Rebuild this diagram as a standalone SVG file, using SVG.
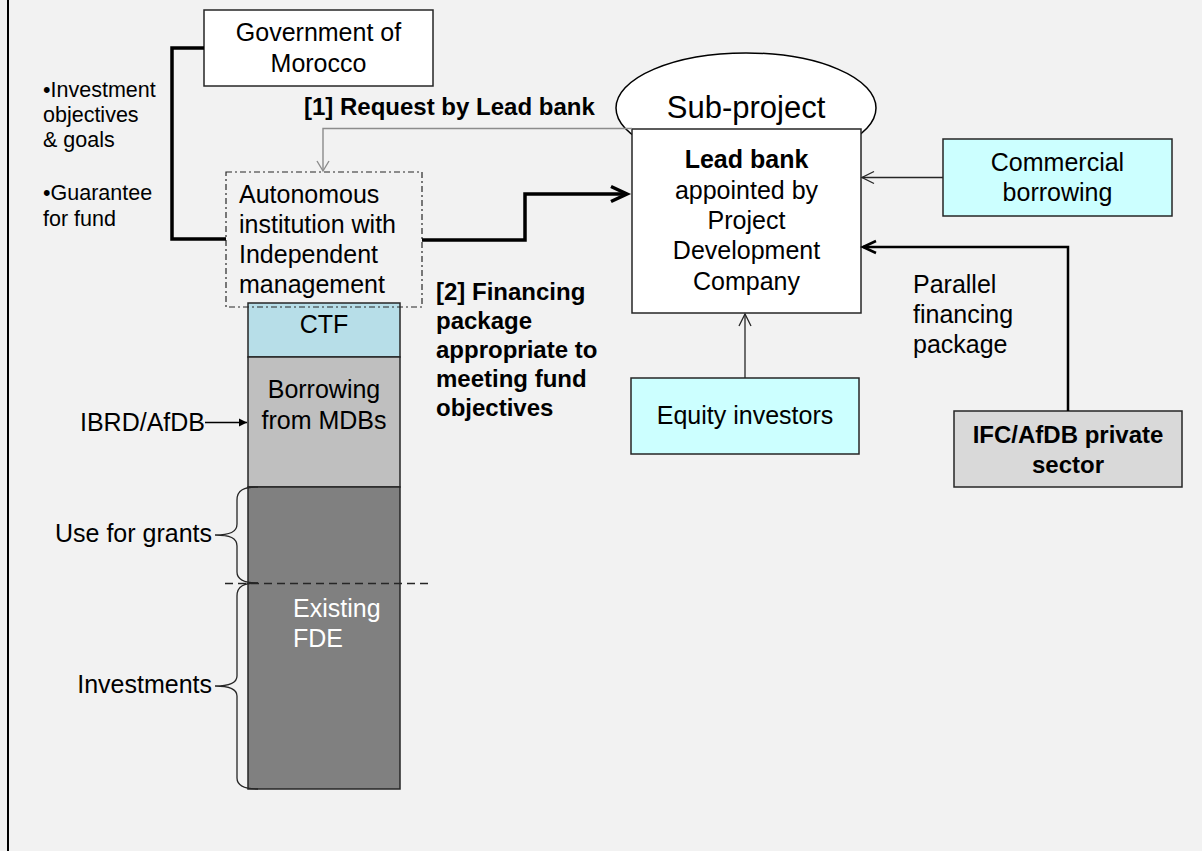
<svg xmlns="http://www.w3.org/2000/svg" width="1202" height="851" viewBox="0 0 1202 851">
<style>
.t{font-family:"Liberation Sans",Arial,sans-serif;font-size:25px;fill:#000}
.b{font-family:"Liberation Sans",Arial,sans-serif;font-size:24px;font-weight:bold;fill:#000}
.s{font-family:"Liberation Sans",Arial,sans-serif;font-size:21.5px;fill:#000}
.box{stroke:#262626;stroke-width:1.5}
.c{fill:none;stroke:#262626;stroke-width:1.3}
</style>
<defs>
<marker id="ahThick" viewBox="-20 -10 24 20" refX="0" refY="0" markerWidth="24" markerHeight="20" markerUnits="userSpaceOnUse" orient="auto" overflow="visible"><path d="M-16,-7.5 L0,0 L-16,7.5" fill="none" stroke="#000" stroke-width="3.5"/></marker>
<marker id="ahPar" viewBox="-16 -8 18 16" refX="0" refY="0" markerWidth="18" markerHeight="16" markerUnits="userSpaceOnUse" orient="auto" overflow="visible"><path d="M-13,-6 L0,0 L-13,6" fill="none" stroke="#000" stroke-width="2.5"/></marker>
<marker id="ahThin" viewBox="-16 -8 18 16" refX="0" refY="0" markerWidth="18" markerHeight="16" markerUnits="userSpaceOnUse" orient="auto" overflow="visible"><path d="M-12,-6 L0,0 L-12,6" fill="none" stroke="#262626" stroke-width="1.3"/></marker>
<marker id="ahGray" viewBox="-16 -8 18 16" refX="0" refY="0" markerWidth="18" markerHeight="16" markerUnits="userSpaceOnUse" orient="auto" overflow="visible"><path d="M-10,-6 L0,0 L-10,6" fill="none" stroke="#8c8c8c" stroke-width="1.4"/></marker>
<marker id="ahFill" viewBox="-10 -5 11 10" refX="0" refY="0" markerWidth="11" markerHeight="10" markerUnits="userSpaceOnUse" orient="auto" overflow="visible"><path d="M-8,-4 L0,0 L-8,4 Z" fill="#000"/></marker>
</defs>
<rect x="0" y="0" width="1202" height="851" fill="#f2f2f2"/>
<line x1="8" y1="0" x2="8" y2="851" stroke="#000" stroke-width="2"/>

<g id="labels-left">
<text class="s" x="43" y="97">•Investment</text>
<text class="s" x="43" y="122">objectives</text>
<text class="s" x="43" y="147">&amp; goals</text>
<text class="s" x="43" y="200">•Guarantee</text>
<text class="s" x="43" y="226">for fund</text>
</g>

<g id="government">
<rect class="box" x="204" y="10" width="229" height="76" fill="#fff"/>
<text class="t" x="318.5" y="41" text-anchor="middle">Government of</text>
<text class="t" x="318.5" y="72" text-anchor="middle">Morocco</text>
</g>

<g id="stack">
<rect class="box" x="248" y="303" width="152" height="54" fill="#b7dee8"/>
<text class="t" x="324" y="333" text-anchor="middle">CTF</text>
<rect class="box" x="248" y="357" width="152" height="130" fill="#bfbfbf"/>
<text class="t" x="324" y="398" text-anchor="middle">Borrowing</text>
<text class="t" x="324" y="429" text-anchor="middle">from MDBs</text>
<rect class="box" x="248" y="487" width="152" height="302" fill="#808080"/>
<text class="t" x="293" y="617" style="fill:#fff">Existing</text>
<text class="t" x="293" y="647" style="fill:#fff">FDE</text>
<line x1="225" y1="583.5" x2="433" y2="583.5" stroke="#262626" stroke-width="1.3" stroke-dasharray="8 5"/>
</g>

<g id="autonomous">
<rect x="226" y="172" width="196" height="135" fill="none" stroke="#262626" stroke-width="1.2" stroke-dasharray="6 3 2 3"/>
<text class="t" x="239" y="203">Autonomous</text>
<text class="t" x="239" y="233">institution with</text>
<text class="t" x="239" y="263">Independent</text>
<text class="t" x="239" y="293">management</text>
</g>

<g id="subproject">
<ellipse cx="746" cy="108" rx="130" ry="55" fill="#fff" stroke="#000" stroke-width="1.5"/>
<text class="t" x="746" y="118" text-anchor="middle" style="font-size:31px">Sub-project</text>
</g>

<g id="leadbank">
<rect class="box" x="632" y="129" width="229" height="184" fill="#fff"/>
<text class="t" x="746.5" y="168" text-anchor="middle" font-weight="bold">Lead bank</text>
<text class="t" x="746.5" y="199" text-anchor="middle">appointed by</text>
<text class="t" x="746.5" y="229" text-anchor="middle">Project</text>
<text class="t" x="746.5" y="259" text-anchor="middle">Development</text>
<text class="t" x="746.5" y="290" text-anchor="middle">Company</text>
</g>

<g id="commercial">
<rect class="box" x="943" y="139" width="229" height="77" fill="#ccffff"/>
<text class="t" x="1057.5" y="171" text-anchor="middle">Commercial</text>
<text class="t" x="1057.5" y="201" text-anchor="middle">borrowing</text>
</g>

<g id="equity">
<rect class="box" x="631" y="378" width="228" height="76" fill="#ccffff"/>
<text class="t" x="745" y="424" text-anchor="middle">Equity investors</text>
</g>

<g id="ifc">
<rect class="box" x="954" y="411" width="228" height="76" fill="#d9d9d9"/>
<text class="b" x="1068" y="443" text-anchor="middle">IFC/AfDB private</text>
<text class="b" x="1068" y="473" text-anchor="middle">sector</text>
</g>

<g id="connectors">
<path d="M204,48 H172 V239 H226" fill="none" stroke="#000" stroke-width="3.5"/>
<path d="M422,240 H525 V194 H627" fill="none" stroke="#000" stroke-width="3.5" marker-end="url(#ahThick)"/>
<path d="M632,128.5 H323 V171" fill="none" stroke="#8c8c8c" stroke-width="1.4" marker-end="url(#ahGray)"/>
<path d="M943,177.5 H862" class="c" marker-end="url(#ahThin)"/>
<path d="M1068,411 V247 H863" fill="none" stroke="#000" stroke-width="2.5" marker-end="url(#ahPar)"/>
<path d="M745,378 V314" class="c" marker-end="url(#ahThin)"/>
<path d="M205,422.5 H247" fill="none" stroke="#000" stroke-width="1.3" marker-end="url(#ahFill)"/>
<path d="M258,487 C244,487 237,490 237,500 L237,524 C237,532 230,535 215,535 C230,535 237,538 237,546 L237,572 C237,580 244,583 258,583" class="c"/>
<path d="M258,583 C244,583 237,586 237,596 L237,676 C237,683 230,686 215,686 C230,686 237,689 237,696 L237,778 C237,786 244,789 258,789" class="c"/>
</g>

<g id="connector-labels">
<text class="b" x="304" y="115">[1] Request by Lead bank</text>
<text class="b" x="436" y="300">[2] Financing</text>
<text class="b" x="436" y="329">package</text>
<text class="b" x="436" y="358">appropriate to</text>
<text class="b" x="436" y="387">meeting fund</text>
<text class="b" x="436" y="416">objectives</text>
<text class="t" x="913" y="293">Parallel</text>
<text class="t" x="913" y="323">financing</text>
<text class="t" x="913" y="353">package</text>
<text class="t" x="205" y="431" text-anchor="end">IBRD/AfDB</text>
<text class="t" x="212" y="542" text-anchor="end">Use for grants</text>
<text class="t" x="212" y="693" text-anchor="end">Investments</text>
</g>
</svg>
